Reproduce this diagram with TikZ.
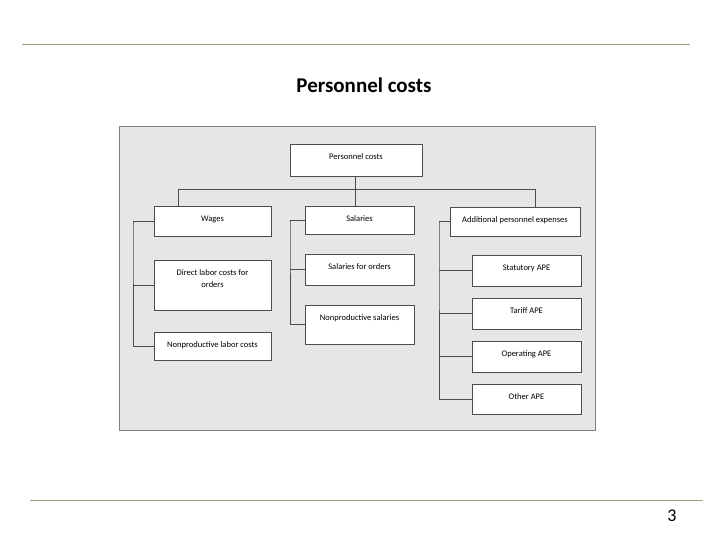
\documentclass[tikz,border=0pt]{standalone}
\usepackage{fontspec}
\setmainfont{Carlito}
\definecolor{rulecol}{RGB}{160,160,110}
\definecolor{panel}{RGB}{230,230,230}
\tikzset{
  box/.style={draw=black!70, fill=white, line width=0.8pt, inner sep=0pt},
  boxtext/.style={font=\fontsize{8.5}{12}\selectfont, align=center, inner sep=0pt},
  wire/.style={draw=black!70, line width=0.8pt}
}
\newcommand{\boxat}[6]{\node[box, minimum width=#4-#2, minimum height=#5-#3] (#1) at ({(#2+#4)/2},{(#3+#5)/2}) {};
	\node[boxtext, anchor=north] (#1-t) at ([yshift=-10]#1.north) {#6};}
\begin{document}
\begin{tikzpicture}[x=1pt,y=-1pt]
	\useasboundingbox (0,0) rectangle (720,540);
	% page
	\draw[rulecol, line width=0.8pt] (22,44) -- (690,44);
	\draw[rulecol, line width=0.8pt] (30,500) -- (703,500);
	\node[font=\fontsize{21}{24}\selectfont\bfseries] (title) at (364,85) {Personnel costs};
	\node[font=\fontsize{18}{20}\selectfont] (page) at (672,516) {3};
	% panel
	\draw[fill=panel, draw=black!50, line width=1pt] (119,127) rectangle (595,430);
	% boxes
	\boxat{root}{290}{144}{422}{176}{Personnel costs}
	\boxat{wages}{154}{206}{271}{236}{Wages}
	\boxat{sal}{305}{206}{414}{234}{Salaries}
	\boxat{add}{450}{207}{580}{236}{Additional personnel expenses}
	\boxat{direct}{154}{260}{271}{310}{Direct labor costs for\\orders}
	\boxat{nplab}{154}{332}{271}{360}{Nonproductive labor costs}
	\boxat{salord}{305}{254}{414}{285}{Salaries for orders}
	\boxat{npsal}{305}{305}{414}{344}{Nonproductive salaries}
	\boxat{stat}{472}{255}{581}{286}{Statutory APE}
	\boxat{tariff}{472}{298}{581}{329}{Tariff APE}
	\boxat{oper}{472}{341}{581}{372}{Operating APE}
	\boxat{other}{472}{384}{581}{414}{Other APE}
	% bus
	\coordinate (busL) at (178,189);
	\coordinate (busM) at (355,189);
	\coordinate (busR) at (535,189);
	\draw[wire] (busM |- root.south) -- (busM);
	\draw[wire] (busL) -- (busR);
	\draw[wire] (busL) -- (busL |- wages.north);
	\draw[wire] (busM) -- (busM |- sal.north);
	\draw[wire] (busR) -- (busR |- add.north);
	% spines
	\coordinate (spL) at (133,223);
	\coordinate (spM) at (290,223);
	\coordinate (spR) at (439,223);
	\draw[wire] (wages.west) -| (spL) |- (nplab.west);
	\draw[wire] (spL |- direct.west) -- (direct.west);
	\draw[wire] (sal.west) -| (spM) |- (npsal.west);
	\draw[wire] (spM |- salord.west) -- (salord.west);
	\draw[wire] (add.west) -| (spR) |- (other.west);
	\foreach \n in {stat,tariff,oper}
		\draw[wire] (spR |- \n.west) -- (\n.west);
\end{tikzpicture}
\end{document}
